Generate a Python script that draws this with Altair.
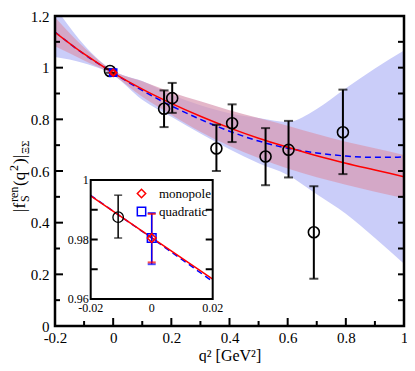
import altair as alt
import pandas as pd

# ---------------- data ----------------
# lattice data points
q2_pts = [-0.011, 0.175, 0.203, 0.355, 0.409, 0.524, 0.603, 0.690, 0.790]
f_pts = [0.987, 0.841, 0.882, 0.687, 0.785, 0.656, 0.682, 0.363, 0.750]
f_lo = [0.980, 0.770, 0.825, 0.600, 0.712, 0.545, 0.575, 0.183, 0.588]
f_hi = [0.995, 0.912, 0.941, 0.779, 0.858, 0.766, 0.794, 0.541, 0.915]

# fit curves and their error bands, read at these q^2 values
q2_curve = [-0.2, -0.1, 0.0, 0.1, 0.2, 0.3, 0.4, 0.5, 0.6, 0.7, 0.8, 0.9, 1.0]
mono_c = [1.137, 1.053, 0.980, 0.917, 0.862, 0.812, 0.767, 0.727, 0.692, 0.659, 0.630, 0.604, 0.578]
mono_hi = [1.195, 1.078, 0.988, 0.947, 0.905, 0.870, 0.835, 0.805, 0.775, 0.743, 0.713, 0.688, 0.662]
mono_lo = [1.083, 1.028, 0.972, 0.887, 0.818, 0.752, 0.697, 0.650, 0.610, 0.576, 0.547, 0.520, 0.495]
quad_c = [1.138, 1.052, 0.980, 0.912, 0.852, 0.800, 0.754, 0.716, 0.688, 0.670, 0.658, 0.653, 0.654]
quad_hi = [1.235, 1.088, 0.988, 0.948, 0.895, 0.855, 0.824, 0.805, 0.790, 0.840, 0.920, 0.997, 1.066]
quad_lo = [1.041, 1.017, 0.972, 0.876, 0.810, 0.745, 0.684, 0.630, 0.585, 0.510, 0.435, 0.341, 0.241]

# fit values at q^2 = 0
fit_names = ["quadratic", "monopole"]
fit_q0 = [0.0, 0.0]
fit_val0 = [0.9805, 0.9805]
fit_lo0 = [0.9717, 0.9723]
fit_hi0 = [0.9889, 0.9886]
legend_order = ["monopole", "quadratic"]
legend_colors = ["red", "blue"]
legend_shapes = ["diamond", "square"]

# inset: zoom around q^2 = 0
inset_q = [-0.02, 0.0, 0.02]
inset_mono = [0.9947, 0.9806, 0.9667]
inset_quad = [0.9948, 0.9805, 0.9659]
inset_pt_q = [-0.011]
inset_pt_f = [0.9875]
inset_pt_lo = [0.9805]
inset_pt_hi = [0.9949]

# axis ticks
x_ticks = [-0.2, 0, 0.2, 0.4, 0.6, 0.8, 1]
x_minor = [-0.1, 0.1, 0.3, 0.5, 0.7, 0.9]
y_ticks = [0, 0.2, 0.4, 0.6, 0.8, 1, 1.2]
y_minor = [0.1, 0.3, 0.5, 0.7, 0.9, 1.1]
inset_x_ticks = [-0.02, 0, 0.02]
inset_y_ticks = [0.96, 0.98, 1]
inset_y_minor = [0.97, 0.98, 0.99]

# ---------------- layout ----------------
W, H = 349, 310
PT = 8                      # top padding (plot top at page y = 8 + PT)
SERIF = "Liberation Serif"
OY = 8 + PT                 # page y of the plot's top edge
IL, IR = 35.7, 157.7        # inset box, plot pixels
IT, IB = 180.0 - OY, 299.0 - OY
kx = (IR - IL) / (inset_x_ticks[-1] - inset_x_ticks[0])
ky = (IB - IT) / (inset_y_ticks[-1] - inset_y_ticks[0])
xi0 = inset_x_ticks[0] - IL / kx
yi0 = inset_y_ticks[0] - (H - IB) / ky
XI = alt.Scale(domain=[xi0, xi0 + W / kx], nice=False, zero=False)
YI = alt.Scale(domain=[yi0, yi0 + H / ky], nice=False, zero=False)

XS = alt.Scale(domain=[x_ticks[0], x_ticks[-1]], nice=False, zero=False)
YS = alt.Scale(domain=[y_ticks[0], y_ticks[-1]], nice=False, zero=False)

x_axis = alt.Axis(values=x_ticks, labelExpr="'' + datum.value", ticks=False, domain=False,
                  grid=False, labelFont=SERIF, labelFontSize=15, labelColor="black",
                  labelPadding=4, labelFlush=False, title="q² [GeV²]", titleFont=SERIF,
                  titleFontSize=16, titleFontWeight="normal", titleColor="black", titlePadding=2)
y_axis = alt.Axis(values=y_ticks, labelExpr="'' + datum.value", ticks=False, domain=False,
                  grid=False, labelFont=SERIF, labelFontSize=15, labelColor="black",
                  labelPadding=6, labelFlush=False, title=None)


def XM(f):
    return alt.X(f, type="quantitative", scale=XS, axis=x_axis)


def YM(f):
    return alt.Y(f, type="quantitative", scale=YS, axis=y_axis)


def XN(f):
    return alt.X(f, type="quantitative", scale=XI, axis=None)


def YN(f):
    return alt.Y(f, type="quantitative", scale=YI, axis=None)


leg = alt.Legend(orient="none", legendX=80, legendY=187 - OY, title=None, labelFont=SERIF,
                 labelFontSize=13, labelColor="black", symbolSize=70, symbolStrokeWidth=1.5,
                 symbolFillColor="transparent",
                 rowPadding=3, labelOffset=11, padding=0, direction="vertical")
col_enc = alt.Color("fit:N", scale=alt.Scale(domain=legend_order, range=legend_colors), legend=leg)
shp_enc = alt.Shape("fit:N", scale=alt.Scale(domain=legend_order, range=legend_shapes), legend=leg)

# ---------------- main panel ----------------
curve_df = pd.DataFrame({"q": q2_curve, "mono": mono_c, "mono_lo": mono_lo, "mono_hi": mono_hi,
                         "quad": quad_c, "quad_lo": quad_lo, "quad_hi": quad_hi})
pts_df = pd.DataFrame({"q": q2_pts, "f": f_pts, "lo": f_lo, "hi": f_hi})
fit_df = pd.DataFrame({"fit": fit_names, "q": fit_q0, "f": fit_val0, "lo": fit_lo0, "hi": fit_hi0})

cb = alt.Chart(curve_df)
blue_band = cb.mark_area(color="#cacdf9", clip=True, interpolate="monotone").encode(
    x=XM("q"), y=YM("quad_lo"), y2="quad_hi")
red_band = cb.mark_area(color="#d898b2", opacity=0.7, clip=True, interpolate="monotone").encode(
    x=XM("q"), y=YM("mono_lo"), y2="mono_hi")
blue_line = cb.mark_line(color="blue", strokeWidth=1.5, strokeDash=[6, 4], clip=True,
                         interpolate="monotone").encode(x=XM("q"), y=YM("quad"))
red_line = cb.mark_line(color="red", strokeWidth=1.5, clip=True,
                        interpolate="monotone").encode(x=XM("q"), y=YM("mono"))

ymaj = alt.Chart(pd.DataFrame({"v": y_ticks}))
ymin = alt.Chart(pd.DataFrame({"v": y_minor}))
xmaj = alt.Chart(pd.DataFrame({"v": x_ticks}))
xmin = alt.Chart(pd.DataFrame({"v": x_minor}))
tick_layers = [
    ymaj.mark_rule(color="black", strokeWidth=2).encode(y=YM("v"), x=alt.value(0), x2=alt.value(8)),
    ymin.mark_rule(color="black", strokeWidth=2).encode(y=YM("v"), x=alt.value(0), x2=alt.value(5)),
    ymaj.mark_rule(color="black", strokeWidth=2).encode(y=YM("v"), x=alt.value(W - 6), x2=alt.value(W)),
    ymin.mark_rule(color="black", strokeWidth=2).encode(y=YM("v"), x=alt.value(W - 6), x2=alt.value(W)),
    xmaj.mark_rule(color="black", strokeWidth=2).encode(x=XM("v"), y=alt.value(H), y2=alt.value(H - 8)),
    xmin.mark_rule(color="black", strokeWidth=2).encode(x=XM("v"), y=alt.value(H), y2=alt.value(H - 5)),
]

# frame of the main panel, spanning the axis ranges
frame_df = pd.DataFrame({"x1": [x_ticks[0]], "x2": [x_ticks[-1]],
                         "y1": [y_ticks[0]], "y2": [y_ticks[-1]]})
frame = alt.Chart(frame_df).mark_rect(fill="white", fillOpacity=0, stroke="black",
                                      strokeWidth=2.5).encode(
    x=XM("x1"), x2="x2", y=YM("y1"), y2="y2")

pb = alt.Chart(pts_df)
pt_bars = pb.mark_rule(color="black", strokeWidth=2).encode(x=XM("q"), y=YM("lo"), y2="hi")
pt_cap_hi = pb.mark_tick(color="black", thickness=2, size=9, orient="horizontal").encode(x=XM("q"), y=YM("hi"))
pt_cap_lo = pb.mark_tick(color="black", thickness=2, size=9, orient="horizontal").encode(x=XM("q"), y=YM("lo"))
pt_circ = pb.mark_point(shape="circle", filled=False, color="black", size=120, strokeWidth=1.6,
                        opacity=1).encode(x=XM("q"), y=YM("f"))

fb = alt.Chart(fit_df)
fit_main = fb.mark_point(filled=False, size=45, strokeWidth=2, opacity=1).encode(
    x=XM("q"), y=YM("f"), color=col_enc, shape=shp_enc)

# y-axis title: |f_S^ren(q^2)|_ΞΣ, built from pieces (rotated); positions in page pixels
title_pieces = [("|f", 17, 25, 212), ("ren", 12, 18, 202), ("S", 12, 29, 202),
                ("(q", 17, 25, 186), ("2", 12, 18, 171), (")|", 17, 25, 164),
                ("ΞΣ", 11, 29, 154)]
one = alt.Chart(pd.DataFrame({"a": [0]}))
title_layers = [one.mark_text(text=t, font=SERIF, fontSize=s, angle=270, align="left",
                              baseline="alphabetic", color="black").encode(
    x=alt.value(px - 55), y=alt.value(py - OY))
    for t, s, px, py in title_pieces]

main = alt.layer(blue_band, red_band, blue_line, red_line, *tick_layers, frame,
                 pt_bars, pt_cap_hi, pt_cap_lo, pt_circ, fit_main, *title_layers)

# ---------------- inset ----------------
box_df = pd.DataFrame({"x1": [inset_x_ticks[0]], "x2": [inset_x_ticks[-1]],
                       "y1": [inset_y_ticks[0]], "y2": [inset_y_ticks[-1]]})
box_fill = alt.Chart(box_df).mark_rect(fill="white").encode(
    x=XN("x1"), x2="x2", y=YN("y1"), y2="y2")
box_line = alt.Chart(box_df).mark_rect(fill="white", fillOpacity=0, stroke="black",
                                       strokeWidth=2).encode(
    x=XN("x1"), x2="x2", y=YN("y1"), y2="y2")

tl = 7 / kx
tick_df = pd.DataFrame({"v": inset_y_minor,
                        "la": [inset_x_ticks[0]] * 3, "lb": [inset_x_ticks[0] + tl] * 3,
                        "ra": [inset_x_ticks[-1] - tl] * 3, "rb": [inset_x_ticks[-1]] * 3})
itick_l = alt.Chart(tick_df).mark_rule(color="black", strokeWidth=2).encode(y=YN("v"), x=XN("la"), x2="lb")
itick_r = alt.Chart(tick_df).mark_rule(color="black", strokeWidth=2).encode(y=YN("v"), x=XN("ra"), x2="rb")

ic_df = pd.DataFrame({"q": inset_q, "mono": inset_mono, "quad": inset_quad})
iquad = alt.Chart(ic_df).mark_line(color="blue", strokeWidth=1.5, strokeDash=[6, 4]).encode(x=XN("q"), y=YN("quad"))
imono = alt.Chart(ic_df).mark_line(color="red", strokeWidth=1.5).encode(x=XN("q"), y=YN("mono"))

ip_df = pd.DataFrame({"q": inset_pt_q, "f": inset_pt_f, "lo": inset_pt_lo, "hi": inset_pt_hi})
ipb = alt.Chart(ip_df)
ip_bar = ipb.mark_rule(color="black", strokeWidth=1.5).encode(x=XN("q"), y=YN("lo"), y2="hi")
ip_c1 = ipb.mark_tick(color="black", thickness=1.5, size=8, orient="horizontal").encode(x=XN("q"), y=YN("hi"))
ip_c2 = ipb.mark_tick(color="black", thickness=1.5, size=8, orient="horizontal").encode(x=XN("q"), y=YN("lo"))
ip_circ = ipb.mark_point(shape="circle", filled=False, color="black", size=110, strokeWidth=1.3,
                         opacity=1).encode(x=XN("q"), y=YN("f"))

mono_df = alt.Chart(fit_df).transform_filter(alt.datum.fit == "monopole")
quad_df = alt.Chart(fit_df).transform_filter(alt.datum.fit == "quadratic")
r_bar = mono_df.mark_rule(color="red", strokeWidth=1.5).encode(x=XN("q"), y=YN("lo"), y2="hi")
b_bar = quad_df.mark_rule(color="blue", strokeWidth=1.5).encode(x=XN("q"), y=YN("lo"), y2="hi")
b_c1 = quad_df.mark_tick(color="blue", thickness=2, size=8, orient="horizontal").encode(x=XN("q"), y=YN("hi"))
b_c2 = quad_df.mark_tick(color="blue", thickness=2, size=8, orient="horizontal").encode(x=XN("q"), y=YN("lo"))
r_c1 = mono_df.mark_tick(color="red", thickness=2, size=8, orient="horizontal").encode(x=XN("q"), y=YN("hi"))
r_c2 = mono_df.mark_tick(color="red", thickness=2, size=8, orient="horizontal").encode(x=XN("q"), y=YN("lo"))
if_pt = alt.Chart(fit_df).mark_point(filled=False, size=75, strokeWidth=1.5, opacity=1).encode(
    x=XN("q"), y=YN("f"), color=col_enc, shape=shp_enc)

ixl_df = pd.DataFrame({"v": inset_x_ticks, "y0": [inset_y_ticks[0]] * 3,
                       "t": [str(v) for v in inset_x_ticks]})
iyl_df = pd.DataFrame({"v": inset_y_ticks, "x0": [inset_x_ticks[0]] * 3,
                       "t": [str(v) for v in inset_y_ticks]})
ixl = alt.Chart(ixl_df).mark_text(font=SERIF, fontSize=12, baseline="top", dy=4, color="black").encode(
    x=XN("v"), y=YN("y0"), text="t:N")
iyl = alt.Chart(iyl_df).mark_text(font=SERIF, fontSize=12, align="right", baseline="middle", dx=-2,
                                  color="black").encode(x=XN("x0"), y=YN("v"), text="t:N")

inset = alt.layer(box_fill, itick_l, itick_r, iquad, imono, ip_bar, ip_c1, ip_c2, ip_circ,
                  r_bar, b_bar, b_c1, b_c2, r_c1, r_c2, if_pt, box_line, ixl, iyl)

chart = alt.layer(main, inset).resolve_scale(x="independent", y="independent").properties(
    width=W, height=H, autosize=alt.AutoSizeParams(type="none"),
    padding={"left": 47, "top": PT, "right": 3, "bottom": 37},
).configure_view(stroke=None).configure_legend(labelFont=SERIF, labelFontSize=13, labelColor="black")

chart.save("out.html", embed_options={"renderer": "svg", "actions": False})
